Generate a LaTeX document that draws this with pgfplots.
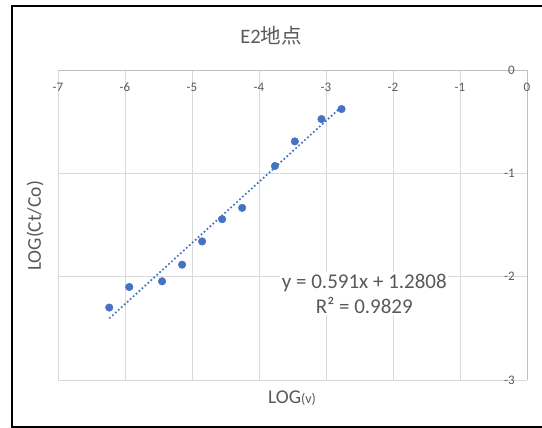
\documentclass[border=0pt]{standalone}
\usepackage{pgfplots}
\pgfplotsset{compat=1.18}
\usepackage{fontspec}
\setmainfont{Carlito}
\newfontfamily\cjk{Noto Sans CJK JP}
\definecolor{labelgray}{HTML}{595959}
\definecolor{gridgray}{HTML}{D9D9D9}
\definecolor{axisgray}{HTML}{BFBFBF}
\definecolor{xlblue}{HTML}{4472C4}
\pgfplotstableread{
x y
-6.235 -2.299
-5.936 -2.100
-5.447 -2.045
-5.148 -1.884
-4.849 -1.659
-4.550 -1.444
-4.251 -1.334
-3.762 -0.929
-3.465 -0.691
-3.067 -0.475
-2.768 -0.378
}\datatable
\begin{document}
\begin{tikzpicture}[x=1pt,y=1pt]
\clip (0,0) rectangle (542,428);
\draw[black, line width=1.4pt] (12,1) rectangle (548,422);
\begin{axis}[
  at={(58pt,48pt)}, anchor=south west, scale only axis,
  width=469pt, height=310pt,
  xmin=-7, xmax=0, ymin=-3, ymax=0,
  axis x line*=top, axis y line*=right,
  xtick={-7,-6,-5,-4,-3,-2,-1,0}, ytick={-3,-2,-1,0},
  grid=major,
  major grid style={draw=gridgray, line width=0.9pt},
  axis line style={draw=axisgray, line width=0.9pt},
  major tick length=0pt,
  /pgf/number format/assume math mode=true,
  tick label style={font=\fontsize{13}{15}\selectfont, text=labelgray, inner sep=0pt},
  xticklabel style={anchor=center, yshift=-17pt},
  yticklabel style={anchor=east, xshift=-12pt},
  clip=false,
]
\addplot[xlblue, line width=1.7pt, dash pattern=on 1.7pt off 2.3pt, forget plot] coordinates {(-6.235,-2.4041) (-2.768,-0.3551)};
\addplot[only marks, mark=*, mark size=3.8pt, mark options={fill=xlblue, draw=xlblue}] table[x=x,y=y] {\datatable};
\node[fill=white, align=center, inner sep=1.5pt, text=labelgray, font=\fontsize{21}{25}\selectfont] at (axis cs:-2.428,-2.165) {y = 0.591x + 1.2808\\R² = 0.9829};
\end{axis}
\node[text=labelgray, font=\fontsize{20.5}{24}\selectfont] at (271,392) {E2{\cjk 地点}};
\node[text=labelgray, font=\fontsize{19.5}{23}\selectfont, anchor=base] at (292,24) {LOG{\fontsize{14}{16}\selectfont(v)}};
\node[text=labelgray, font=\fontsize{19.5}{23}\selectfont, rotate=90] at (35,202) {LOG(Ct/Co)};
\end{tikzpicture}
\end{document}
